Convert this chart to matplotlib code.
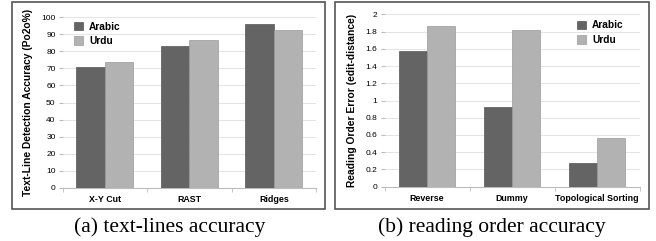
import matplotlib
matplotlib.use("Agg")
import matplotlib.pyplot as plt
from matplotlib.patches import Rectangle
import numpy as np

methods_a = ["X-Y Cut", "RAST", "Ridges"]
arabic_a = [71, 83, 96]
urdu_a = [73.5, 86.5, 92.5]

methods_b = ["Reverse", "Dummy", "Topological Sorting"]
arabic_b = [1.57, 0.93, 0.28]
urdu_b = [1.86, 1.82, 0.56]

DARK = "#646464"
LIGHT = "#b2b2b2"
W, H = 656, 241
fig = plt.figure(figsize=(W/100, H/100), dpi=100)
plt.rcParams['font.family'] = ['Liberation Sans', 'DejaVu Sans']

def px(x0, y0, x1, y1):
    return [x0/W, 1 - y1/H, (x1-x0)/W, (y1-y0)/H]

def panel(rect, cats, a, u, ymax, step, ylabel, fmt, leg_anchor, ylab_x):
    ax = fig.add_axes(px(*rect))
    x = np.arange(len(cats))
    bw = 0.335
    ax.bar(x - bw/2, a, bw, color=DARK, edgecolor="#555555", linewidth=0.5, label="Arabic", zorder=3)
    ax.bar(x + bw/2, u, bw, color=LIGHT, edgecolor="#9a9a9a", linewidth=0.5, label="Urdu", zorder=3)
    ax.set_xlim(-0.5, len(cats) - 0.5)
    ax.set_ylim(0, ymax)
    ticks = np.arange(0, ymax + step/2, step)
    ax.set_yticks(ticks)
    ax.set_yticklabels([fmt(t) for t in ticks], fontsize=6)
    ax.set_xticks(x)
    ax.set_xticklabels(cats, fontsize=6.4, fontweight="bold")
    ax.set_xticks(np.arange(-0.5, len(cats)), minor=True)
    ax.tick_params(axis="x", which="major", length=0, pad=5)
    ax.tick_params(axis="x", which="minor", length=3, color="#bbbbbb")
    ax.tick_params(axis="y", length=3, color="#bbbbbb", pad=2)
    ax.grid(axis="y", color="#e4e4e4", linewidth=0.7, zorder=0)
    for s in ["top", "right", "left"]:
        ax.spines[s].set_visible(False)
    ax.spines["bottom"].set_color("#bbbbbb")
    ax.set_ylabel(ylabel, fontsize=7.4, fontweight="bold")
    ax.yaxis.set_label_coords((ylab_x - rect[0]) / (rect[2] - rect[0]), 0.5)
    ax.legend(loc="upper left", bbox_to_anchor=leg_anchor, frameon=False,
              prop={"size": 7.3, "weight": "bold"}, borderaxespad=0, borderpad=0,
              handlelength=0.9, handleheight=0.9, handletextpad=0.6, labelspacing=0.45)
    return ax

panel((62.5, 17.3, 316, 187.7), methods_a, arabic_a, urdu_a, 100, 10,
      "Text-Line Detection Accuracy (Po2o%)", lambda t: f"{int(t)}", (0.045, 0.975), 33)
panel((384.5, 14.3, 639.5, 186.7), methods_b, arabic_b, urdu_b, 2, 0.2,
      "Reading Order Error (edit-distance)",
      lambda t: "0" if t == 0 else f"{t:.1f}".rstrip("0").rstrip("."), (0.755, 0.965), 357)

for (x0, x1) in [(12, 325), (335, 649)]:
    fig.patches.append(Rectangle((x0/W, 1 - 209/H), (x1-x0)/W, 207/H, transform=fig.transFigure,
                                 fill=False, edgecolor="#555555", linewidth=1.2))

fig.text(169.5/W, 1 - 227.5/H, "(a) text-lines accuracy", ha="center", va="center",
         fontsize=15.5, family="Liberation Serif")
fig.text(492/W, 1 - 227.5/H, "(b) reading order accuracy", ha="center", va="center",
         fontsize=15.5, family="Liberation Serif")

fig.savefig("out.png", dpi=100)
